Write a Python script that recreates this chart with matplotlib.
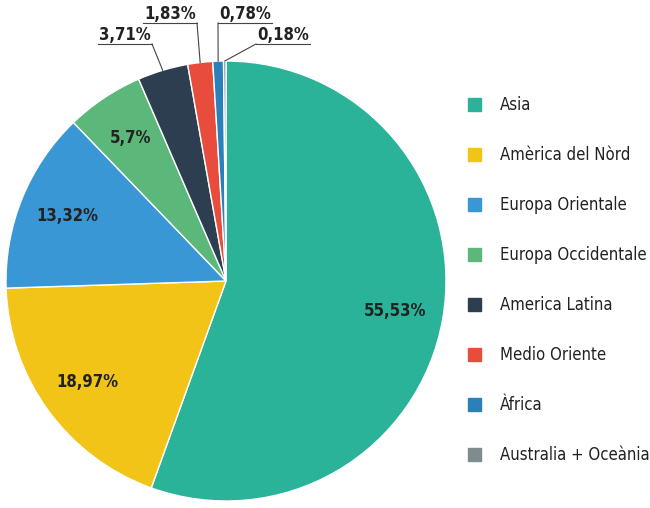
import matplotlib.pyplot as plt
import numpy as np

labels = ["Asia", "Amèrica del Nòrd", "Europa Orientale", "Europa Occidentale",
          "America Latina", "Medio Oriente", "Àfrica", "Australia + Oceània"]
values = [55.53, 18.97, 13.32, 5.7, 3.71, 1.83, 0.78, 0.18]
texts = ["55,53%", "18,97%", "13,32%", "5,7%", "3,71%", "1,83%", "0,78%", "0,18%"]
colors = ["#2bb39a", "#f1c417", "#3a97d5", "#5cb87a", "#2c3e50", "#e74c3c", "#2a80b9", "#7f8c8d"]

plt.rcParams['font.family'] = ['DejaVu Sans']
fig = plt.figure(figsize=(6.5, 5.08), dpi=100)
ax = fig.add_axes([6/650, 7/508, 440/650, 440/508])
wedges, _ = ax.pie(values, colors=colors, startangle=90, counterclock=False,
                   wedgeprops=dict(edgecolor='white', linewidth=1))
ax.set_xlim(-1, 1); ax.set_ylim(-1, 1); ax.set_aspect('equal')
ax.set_clip_on(False)

def px(x, y):
    return ((x - 226) / 220, (281 - y) / 220)

fs = dict(fontsize=12, fontweight='bold', fontstretch='condensed', color='#222222')
for i, w in enumerate(wedges[:4]):
    a = np.deg2rad((w.theta1 + w.theta2) / 2)
    ax.text(0.78 * np.cos(a), 0.78 * np.sin(a), texts[i], ha='center', va='center', **fs)

outer = [(125, 35, 'right'), (170, 14, 'right'), (245, 14, 'left'), (283, 35, 'left')]
for k, (tx, ty, side) in enumerate(outer):
    i = 4 + k
    w = wedges[i]
    a = np.deg2rad((w.theta1 + w.theta2) / 2)
    ex, ey = np.cos(a), np.sin(a)
    lx, ly = px(tx, ty + 9)
    t = ax.text(*px(tx, ty), texts[i], ha='center', va='center', **fs)
    half = 27 / 220
    x0 = lx + (half if side == 'right' else -half)
    ax.plot([ex, x0], [ey, ly], color='#444444', lw=0.8, clip_on=False)
    ax.plot([lx - half, lx + half], [ly, ly], color='#444444', lw=0.8, clip_on=False)

for i, lab in enumerate(labels):
    y = 1 - (105 + 50 * i) / 508
    fig.patches.append(plt.Rectangle((468 / 650, y - 6 / 508), 13 / 650, 13 / 508,
                                     transform=fig.transFigure, color=colors[i]))
    fig.text(500 / 650, y + 0.5 / 508, lab, ha='left', va='center', fontsize=12,
             fontstretch='condensed', color='#222222')

fig.savefig('out.png', dpi=100)
